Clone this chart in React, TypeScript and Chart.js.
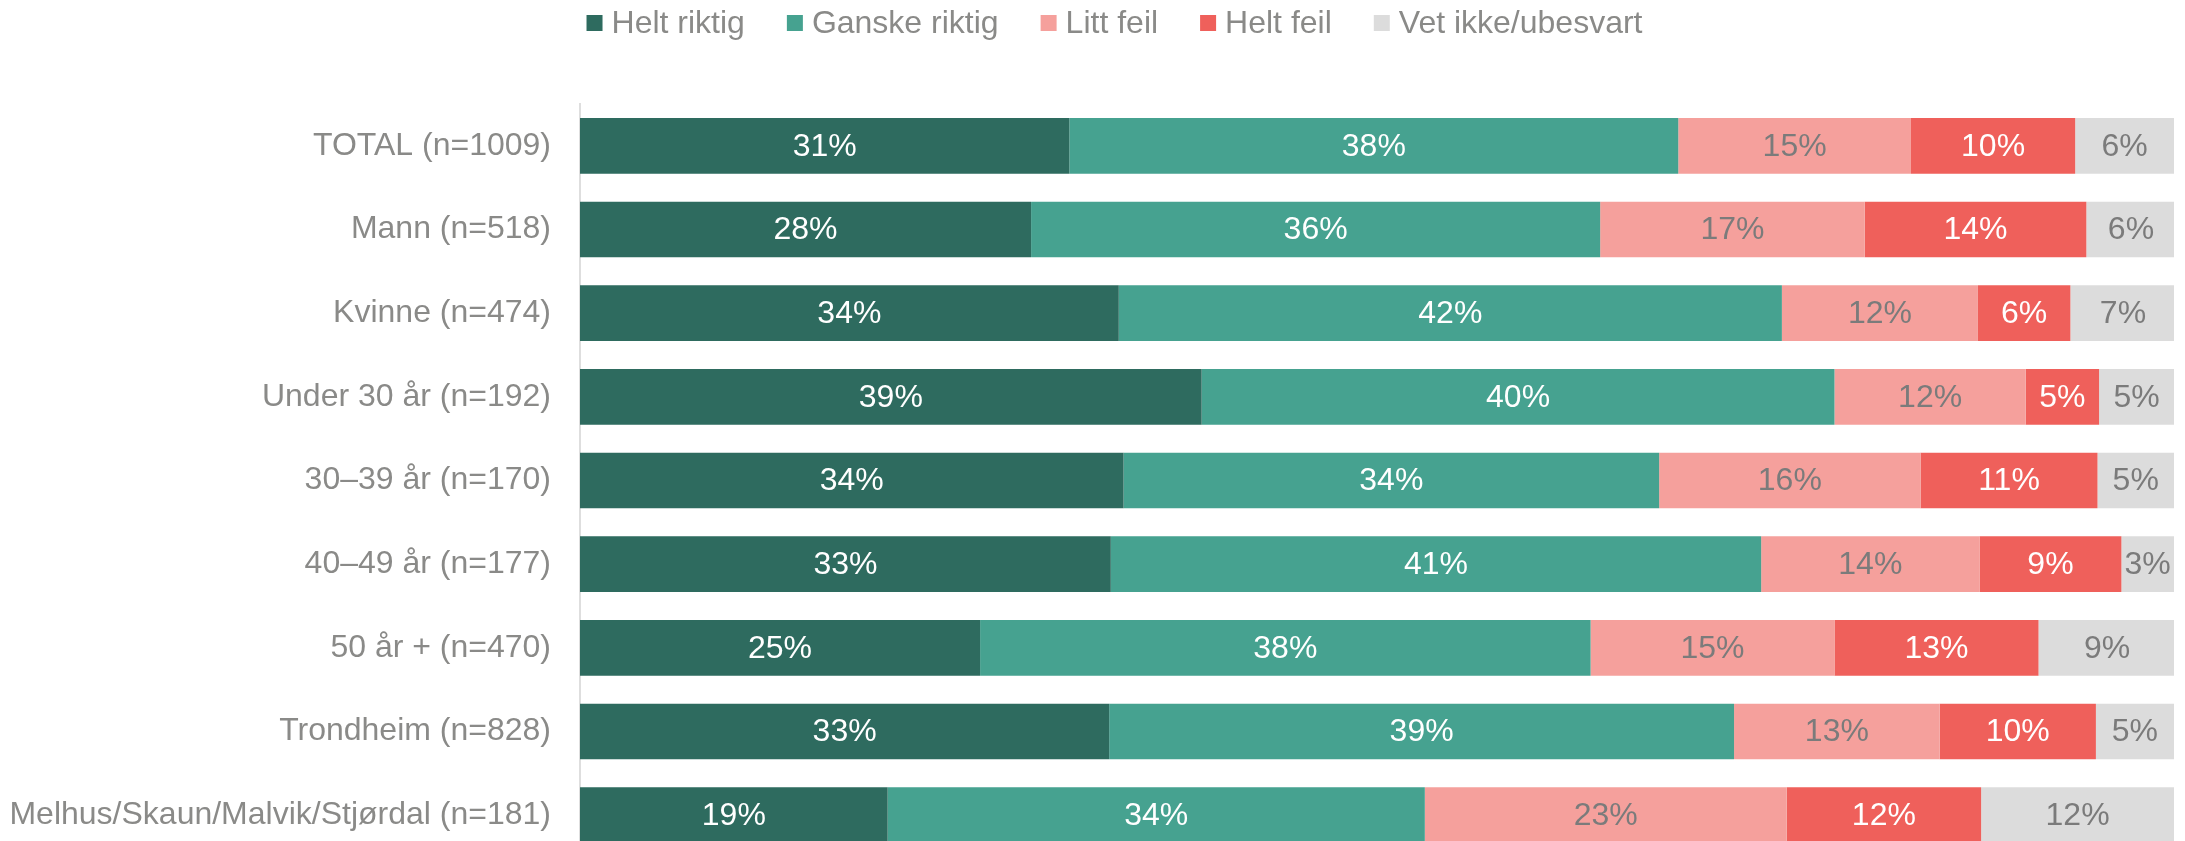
import React, { useEffect, useRef } from "react";
import { Chart, registerables } from "chart.js";

Chart.register(...registerables);

const categories = [
  "TOTAL (n=1009)",
  "Mann (n=518)",
  "Kvinne (n=474)",
  "Under 30 år (n=192)",
  "30–39 år (n=170)",
  "40–49 år (n=177)",
  "50 år + (n=470)",
  "Trondheim (n=828)",
  "Melhus/Skaun/Malvik/Stjørdal (n=181)",
];

const seriesNames = ["Helt riktig", "Ganske riktig", "Litt feil", "Helt feil", "Vet ikke/ubesvart"];

const heltRiktig = [30.7, 28.3, 33.8, 39.0, 34.1, 33.3, 25.1, 33.2, 19.3];
const ganskeRiktig = [38.2, 35.7, 41.6, 39.7, 33.6, 40.8, 38.3, 39.2, 33.7];
const littFeil = [14.6, 16.6, 12.3, 12.0, 16.4, 13.7, 15.3, 12.9, 22.7];
const heltFeil = [10.3, 13.9, 5.8, 4.6, 11.1, 8.9, 12.8, 9.8, 12.2];
const vetIkke = [6.2, 5.6, 6.6, 4.7, 4.8, 3.3, 8.6, 4.9, 12.1];

const seriesColors = ["#2e6b5f", "#46a290", "#f5a09c", "#ef605b", "#dcdcdc"];
const labelColors = ["#ffffff", "#ffffff", "#7b7b7b", "#ffffff", "#7b7b7b"];

const FONT = "'Liberation Sans', Arial, sans-serif";
const FONT_SIZE = 32;

const legendPlugin = {
  id: "customLegend",
  afterDraw(chart: any) {
    const ctx = chart.ctx;
    ctx.save();
    ctx.font = `${FONT_SIZE}px ${FONT}`;
    ctx.textBaseline = "middle";
    ctx.textAlign = "left";
    const box = 16;
    const gap = 9;
    const itemGap = 42;
    const items = chart.data.datasets.map((d: any) => ({
      label: d.label,
      color: d.backgroundColor,
      w: ctx.measureText(d.label).width,
    }));
    const total =
      items.reduce((s: number, it: any) => s + box + gap + it.w, 0) + itemGap * (items.length - 1);
    let x = (chart.width - total) / 2 + 22;
    const cy = 23;
    for (const it of items) {
      ctx.fillStyle = it.color;
      ctx.fillRect(x, cy - box / 2, box, box);
      ctx.fillStyle = "#8a8a88";
      ctx.fillText(it.label, x + box + gap, cy + 1);
      x += box + gap + it.w + itemGap;
    }
    ctx.restore();
  },
};

const valueLabelPlugin = {
  id: "valueLabels",
  afterDatasetsDraw(chart: any) {
    const ctx = chart.ctx;
    ctx.save();
    ctx.font = `${FONT_SIZE}px ${FONT}`;
    ctx.textAlign = "center";
    ctx.textBaseline = "middle";
    chart.data.datasets.forEach((ds: any, di: number) => {
      const meta = chart.getDatasetMeta(di);
      meta.data.forEach((bar: any, i: number) => {
        const v = ds.data[i];
        const cx = (bar.x + bar.base) / 2;
        ctx.fillStyle = labelColors[di];
        ctx.fillText(`${Math.round(v)}%`, cx, bar.y + 1);
      });
    });
    ctx.restore();
  },
};

export default function App() {
  const ref = useRef<HTMLCanvasElement | null>(null);

  useEffect(() => {
    if (!ref.current) return;
    const seriesData = [heltRiktig, ganskeRiktig, littFeil, heltFeil, vetIkke];
    const chart = new Chart(ref.current, {
      type: "bar",
      data: {
        labels: categories,
        datasets: seriesNames.map((name, i) => ({
          label: name,
          data: seriesData[i],
          backgroundColor: seriesColors[i],
          borderWidth: 0,
          barPercentage: 0.665,
          categoryPercentage: 1,
        })),
      },
      options: {
        indexAxis: "y",
        responsive: false,
        animation: false,
        layout: { padding: { top: 104, bottom: 0, left: 0, right: 11 } },
        plugins: {
          legend: { display: false },
          tooltip: { enabled: false },
        },
        scales: {
          x: {
            stacked: true,
            min: 0,
            max: 100,
            display: false,
          },
          y: {
            stacked: true,
            afterFit: (s: any) => {
              s.width = 580;
              s.paddingTop = 0;
              s.paddingBottom = 0;
            },
            grid: { display: false, drawTicks: false },
            border: { display: true, color: "#dedede", width: 2 },
            ticks: {
              padding: 29,
              color: "#8a8a88",
              font: { family: FONT, size: FONT_SIZE },
            },
          },
        },
      },
      plugins: [legendPlugin, valueLabelPlugin],
    });
    return () => chart.destroy();
  }, []);

  return (
    <div
      style={{
        position: "absolute",
        left: 0,
        top: 0,
        width: 2185,
        height: 841,
        overflow: "hidden",
        background: "#fff",
      }}
    >
      <canvas ref={ref} width={2185} height={857} style={{ display: "block" }} />
    </div>
  );
}
